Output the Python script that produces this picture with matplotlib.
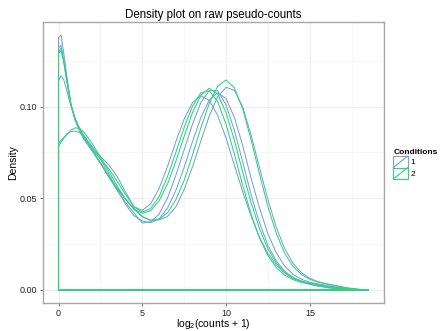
import matplotlib
matplotlib.use("Agg")
import matplotlib.pyplot as plt
from matplotlib.legend_handler import HandlerBase
from matplotlib.patches import Rectangle
from matplotlib.lines import Line2D

plt.rcParams['font.family'] = ['Liberation Sans', 'DejaVu Sans']

# x positions (log2(counts+1)) at which the densities were read
x_grid = [0, 0.15, 0.3, 0.5, 0.75, 1.0, 1.25, 1.5,
          2.0, 2.5, 3.0, 3.5, 4.0, 4.5, 5.0, 5.5, 6.0, 6.5, 7.0, 7.5, 8.0, 8.5,
          9.0, 9.5, 10.0, 10.5, 11.0, 11.5, 12.0, 12.5, 13.0, 13.5, 14.0, 14.5,
          15.0, 15.5, 16.0, 16.5, 17.0, 17.5, 18.0, 18.5]

# condition 1 samples
cond1_s1 = [0.1377, 0.1390, 0.1300, 0.1165, 0.1010, 0.0925, 0.0870, 0.0825,
            0.0761, 0.0692, 0.0616, 0.0543, 0.0477, 0.0420, 0.0365, 0.0372, 0.0413, 0.0500,
            0.0624, 0.0765, 0.0905, 0.1023, 0.1087, 0.1086, 0.1009, 0.0869, 0.0696, 0.0517,
            0.0365, 0.0243, 0.0157, 0.0102, 0.0068, 0.0049, 0.0037, 0.0030, 0.0022, 0.0015,
            0.0009, 0.0004, 0.0001, 0.0]
cond1_s2 = [0.1320, 0.1335, 0.1260, 0.1145, 0.1005, 0.0925, 0.0870, 0.0825,
            0.0760, 0.0691, 0.0617, 0.0556, 0.0497, 0.0445, 0.0401, 0.0380, 0.0382, 0.0400,
            0.0453, 0.0548, 0.0672, 0.0813, 0.0949, 0.1054, 0.1105, 0.1088, 0.0995, 0.0843,
            0.0666, 0.0491, 0.0341, 0.0225, 0.0145, 0.0094, 0.0063, 0.0045, 0.0034, 0.0024,
            0.0014, 0.0007, 0.0002, 0.0]
cond1_s3 = [0.1140, 0.1168, 0.1150, 0.1085, 0.1000, 0.0935, 0.0885, 0.0845,
            0.0776, 0.0728, 0.0682, 0.0619, 0.0534, 0.0454, 0.0434, 0.0469, 0.0553, 0.0672,
            0.0808, 0.0932, 0.1022, 0.1059, 0.1033, 0.0952, 0.0828, 0.0679, 0.0534, 0.0400,
            0.0286, 0.0199, 0.0136, 0.0092, 0.0063, 0.0045, 0.0031, 0.0021, 0.0013, 0.0007,
            0.0004, 0.0002, 0.0001, 0.0]
cond1_s4 = [0.0800, 0.0815, 0.0830, 0.0848, 0.0865, 0.0866, 0.0858, 0.0840,
            0.0785, 0.0715, 0.0632, 0.0548, 0.0467, 0.0405, 0.0376, 0.0366, 0.0388, 0.0445,
            0.0541, 0.0669, 0.0810, 0.0941, 0.1036, 0.1075, 0.1044, 0.0940, 0.0785, 0.0607,
            0.0446, 0.0306, 0.0202, 0.0130, 0.0085, 0.0058, 0.0042, 0.0033, 0.0025, 0.0017,
            0.0011, 0.0005, 0.0002, 0.0]
# condition 2 samples
cond2_s1 = [0.1295, 0.1320, 0.1255, 0.1140, 0.1010, 0.0930, 0.0875, 0.0830,
            0.0765, 0.0695, 0.0621, 0.0553, 0.0494, 0.0440, 0.0399, 0.0379, 0.0385, 0.0420,
            0.0491, 0.0598, 0.0737, 0.0885, 0.1018, 0.1111, 0.1145, 0.1102, 0.0985, 0.0816,
            0.0631, 0.0454, 0.0308, 0.0200, 0.0128, 0.0084, 0.0058, 0.0042, 0.0033, 0.0024,
            0.0015, 0.0008, 0.0003, 0.0]
cond2_s2 = [0.1290, 0.1305, 0.1250, 0.1135, 0.1005, 0.0930, 0.0878, 0.0835,
            0.0770, 0.0713, 0.0661, 0.0593, 0.0521, 0.0454, 0.0424, 0.0444, 0.0509, 0.0617,
            0.0749, 0.0887, 0.1002, 0.1076, 0.1086, 0.1026, 0.0903, 0.0739, 0.0568, 0.0411,
            0.0282, 0.0187, 0.0122, 0.0081, 0.0056, 0.0041, 0.0032, 0.0023, 0.0015, 0.0010,
            0.0005, 0.0002, 0.0001, 0.0]
cond2_s3 = [0.0785, 0.0805, 0.0825, 0.0850, 0.0872, 0.0884, 0.0880, 0.0862,
            0.0800, 0.0725, 0.0648, 0.0567, 0.0495, 0.0442, 0.0418, 0.0432, 0.0485, 0.0577,
            0.0700, 0.0838, 0.0968, 0.1062, 0.1100, 0.1068, 0.0967, 0.0815, 0.0639, 0.0475,
            0.0333, 0.0223, 0.0146, 0.0096, 0.0064, 0.0045, 0.0035, 0.0026, 0.0018, 0.0011,
            0.0006, 0.0003, 0.0001, 0.0]

conditions = ["1", "2"]
series = {"1": [cond1_s1, cond1_s2, cond1_s3, cond1_s4],
          "2": [cond2_s1, cond2_s2, cond2_s3]}
colors = {"1": "#72A3DB", "2": "#2DD47C"}

fig = plt.figure(figsize=(4.4, 3.31), dpi=100)
ax = fig.add_axes([43 / 440, 1 - 302.7 / 331, (384 - 43) / 440, (302.7 - 22.3) / 331])

for cond in conditions:
    for ys in series[cond]:
        xs = [x_grid[0]] + list(x_grid) + [x_grid[0]]
        yy = [0.0] + list(ys) + [0.0]
        ax.plot(xs, yy, color=colors[cond], lw=0.75, solid_joinstyle='round')

xmin, xmax = min(x_grid), max(x_grid)
allv = [v for c in conditions for s in series[c] for v in s]
ymin, ymax = 0.0, max(allv)
ax.set_xlim(xmin - 0.05 * (xmax - xmin), xmax + 0.05 * (xmax - xmin))
ax.set_ylim(ymin - 0.05 * (ymax - ymin), ymax + 0.05 * (ymax - ymin))

ax.set_xticks([0, 5, 10, 15])
ax.set_xticks([2.5, 7.5, 12.5, 17.5], minor=True)
ax.set_yticks([0.0, 0.05, 0.10])
ax.set_yticklabels(["0.00", "0.05", "0.10"])
ax.set_yticks([0.025, 0.075, 0.125], minor=True)
ax.grid(which='major', color='#EBEBEB', lw=0.6)
ax.grid(which='minor', color='#F4F4F4', lw=0.5)
ax.set_axisbelow(True)
ax.tick_params(which='major', direction='out', length=2.5, width=0.6, color='#555555',
               labelsize=6.5, labelcolor='#222222', pad=2)
ax.tick_params(which='minor', length=0)
for sp in ax.spines.values():
    sp.set_color('#A8A8A8')
    sp.set_linewidth(1.0)

ax.set_xlabel(r"$\mathregular{log_2}$(counts + 1)", fontsize=7.5, labelpad=-0.5)
ax.set_ylabel("Density", fontsize=7.5, labelpad=1)
ax.set_title("Density plot on raw pseudo-counts", fontsize=8.3, pad=3)


class DensityKey(HandlerBase):
    def create_artists(self, legend, orig_handle, xdescent, ydescent, width, height,
                       fontsize, trans):
        c = orig_handle.get_color()
        r = Rectangle((-xdescent, -ydescent), width, height, fill=False,
                      edgecolor=c, lw=0.8, transform=trans)
        l = Line2D([-xdescent, -xdescent + width], [-ydescent, -ydescent + height],
                   color=c, lw=0.8, transform=trans)
        return [r, l]


handles = [Line2D([], [], color=colors[c]) for c in conditions]
leg = fig.legend(handles, conditions, title="Conditions", loc='center left',
                 bbox_to_anchor=(392 / 440, 1 - 164 / 331), frameon=False,
                 fontsize=6, title_fontsize=6, handlelength=1.75, handleheight=1.75,
                 labelspacing=0.0, handletextpad=0.3, borderpad=0.15, borderaxespad=0.0,
                 alignment='left', handler_map={Line2D: DensityKey()})
leg.get_title().set_fontweight('bold')

fig.savefig("out.png", dpi=100)
